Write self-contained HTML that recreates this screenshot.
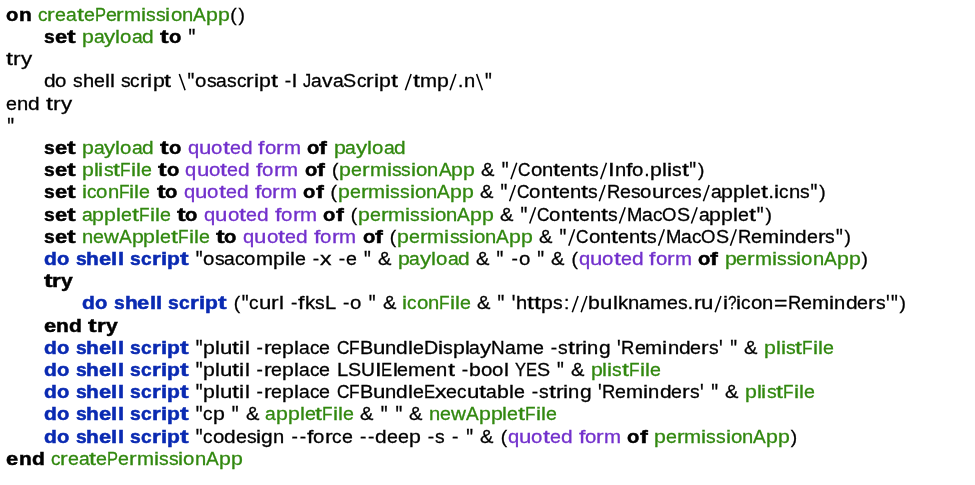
<!DOCTYPE html>
<html><head><meta charset="utf-8"><style>
html,body{margin:0;padding:0;background:#fff;width:975px;height:485px;overflow:hidden;position:relative}
i{position:absolute;display:block;font-style:normal;white-space:pre;font-family:"Liberation Sans",sans-serif;font-size:19.2px;line-height:0;height:0;transform-origin:0 0;color:#000;-webkit-text-stroke:0.3px currentColor}
i.q{transform-origin:0 -7.10px}
svg.s{position:absolute;left:0;top:0}
#c{position:absolute;left:0;top:0;width:975px;height:485px;filter:blur(0.3px)}
.k,.b{font-weight:bold;-webkit-text-stroke:0.5px currentColor}
.v{color:#31880f}
.p{color:#7230cc}
.b{color:#0a2ab2}
</style></head><body><div id="c">
<i class="k" style="left:6.36px;top:14.85px;transform:scaleX(1.0516)">o</i>
<i class="k" style="left:18.82px;top:14.85px;transform:scaleX(1.0898)">n</i>
<i class="v" style="left:37.91px;top:14.85px;transform:scaleX(0.9871)">c</i>
<i class="v" style="left:47.39px;top:14.85px;transform:scaleX(1.1884)">r</i>
<i class="v" style="left:54.98px;top:14.85px;transform:scaleX(1.0228)">e</i>
<i class="v" style="left:65.90px;top:14.85px;transform:scaleX(1.0038)">a</i>
<i class="v" style="left:76.62px;top:14.85px;transform:scaleX(1.3129)">t</i>
<i class="v" style="left:83.63px;top:14.85px;transform:scaleX(1.0228)">e</i>
<i class="v" style="left:94.55px;top:14.85px;transform:scaleX(0.8586)">P</i>
<i class="v" style="left:105.54px;top:14.85px;transform:scaleX(1.0228)">e</i>
<i class="v" style="left:116.46px;top:14.85px;transform:scaleX(1.1884)">r</i>
<i class="v" style="left:124.06px;top:14.85px;transform:scaleX(1.0645)">m</i>
<i class="v" style="left:141.09px;top:14.85px;transform:scaleX(1.1907)">i</i>
<i class="v" style="left:146.17px;top:14.85px;transform:scaleX(1.0059)">s</i>
<i class="v" style="left:155.82px;top:14.85px;transform:scaleX(1.0059)">s</i>
<i class="v" style="left:165.48px;top:14.85px;transform:scaleX(1.1907)">i</i>
<i class="v" style="left:170.56px;top:14.85px;transform:scaleX(1.0627)">o</i>
<i class="v" style="left:181.91px;top:14.85px;transform:scaleX(1.0521)">n</i>
<i class="v" style="left:193.14px;top:14.85px;transform:scaleX(0.9926)">A</i>
<i class="v" style="left:205.85px;top:14.85px;transform:scaleX(1.1100)">p</i>
<i class="v" style="left:217.70px;top:14.85px;transform:scaleX(1.1100)">p</i>
<i class="t" style="left:230.35px;top:14.85px;transform:scaleX(1.0000)">(</i>
<i class="t" style="left:238.50px;top:14.85px;transform:scaleX(1.0000)">)</i>
<i class="k" style="left:43.75px;top:37.05px;transform:scaleX(1.0007)">s</i>
<i class="k" style="left:54.56px;top:37.05px;transform:scaleX(1.1403)">e</i>
<i class="k" style="left:66.84px;top:37.05px;transform:scaleX(1.3422)">t</i>
<i class="v" style="left:81.70px;top:37.05px;transform:scaleX(1.1100)">p</i>
<i class="v" style="left:93.56px;top:37.05px;transform:scaleX(1.0038)">a</i>
<i class="v" style="left:104.27px;top:37.05px;transform:scaleX(1.1632)">y</i>
<i class="v" style="left:115.44px;top:37.05px;transform:scaleX(1.1552)">l</i>
<i class="v" style="left:120.37px;top:37.05px;transform:scaleX(1.0627)">o</i>
<i class="v" style="left:131.72px;top:37.05px;transform:scaleX(1.0038)">a</i>
<i class="v" style="left:142.43px;top:37.05px;transform:scaleX(1.0871)">d</i>
<i class="k" style="left:160.33px;top:37.05px;transform:scaleX(1.3422)">t</i>
<i class="k" style="left:169.01px;top:37.05px;transform:scaleX(1.0516)">o</i>
<i class="t q" style="left:188.49px;top:37.05px;transform:scaleX(1.0000) scaleY(1.2)">&quot;</i>
<i class="t" style="left:6.30px;top:59.25px;transform:scaleX(1.3129)">t</i>
<i class="t" style="left:13.30px;top:59.25px;transform:scaleX(1.1884)">r</i>
<i class="t" style="left:20.90px;top:59.25px;transform:scaleX(1.1632)">y</i>
<i class="t" style="left:43.70px;top:81.45px;transform:scaleX(1.0871)">d</i>
<i class="t" style="left:55.31px;top:81.45px;transform:scaleX(1.0627)">o</i>
<i class="t" style="left:72.90px;top:81.45px;transform:scaleX(1.0059)">s</i>
<i class="t" style="left:82.55px;top:81.45px;transform:scaleX(1.0475)">h</i>
<i class="t" style="left:93.74px;top:81.45px;transform:scaleX(1.0228)">e</i>
<i class="t" style="left:104.66px;top:81.45px;transform:scaleX(1.1552)">l</i>
<i class="t" style="left:109.59px;top:81.45px;transform:scaleX(1.1552)">l</i>
<i class="t" style="left:120.76px;top:81.45px;transform:scaleX(1.0059)">s</i>
<i class="t" style="left:130.41px;top:81.45px;transform:scaleX(0.9871)">c</i>
<i class="t" style="left:139.89px;top:81.45px;transform:scaleX(1.1884)">r</i>
<i class="t" style="left:147.49px;top:81.45px;transform:scaleX(1.1907)">i</i>
<i class="t" style="left:152.57px;top:81.45px;transform:scaleX(1.1100)">p</i>
<i class="t" style="left:164.42px;top:81.45px;transform:scaleX(1.3129)">t</i>
<i class="t q" style="left:187.56px;top:81.45px;transform:scaleX(1.0000) scaleY(1.2)">&quot;</i>
<i class="t" style="left:195.21px;top:81.45px;transform:scaleX(1.0627)">o</i>
<i class="t" style="left:206.56px;top:81.45px;transform:scaleX(1.0059)">s</i>
<i class="t" style="left:216.22px;top:81.45px;transform:scaleX(1.0038)">a</i>
<i class="t" style="left:226.94px;top:81.45px;transform:scaleX(1.0059)">s</i>
<i class="t" style="left:236.59px;top:81.45px;transform:scaleX(0.9871)">c</i>
<i class="t" style="left:246.07px;top:81.45px;transform:scaleX(1.1884)">r</i>
<i class="t" style="left:253.67px;top:81.45px;transform:scaleX(1.1907)">i</i>
<i class="t" style="left:258.75px;top:81.45px;transform:scaleX(1.1100)">p</i>
<i class="t" style="left:270.60px;top:81.45px;transform:scaleX(1.3129)">t</i>
<i class="t" style="left:284.76px;top:81.45px;transform:scaleX(1.0000)">-</i>
<i class="t" style="left:292.07px;top:81.45px;transform:scaleX(1.1552)">l</i>
<i class="t" style="left:303.23px;top:81.45px;transform:scaleX(0.8500)">J</i>
<i class="t" style="left:311.38px;top:81.45px;transform:scaleX(1.0038)">a</i>
<i class="t" style="left:322.10px;top:81.45px;transform:scaleX(1.1055)">v</i>
<i class="t" style="left:332.71px;top:81.45px;transform:scaleX(1.0038)">a</i>
<i class="t" style="left:343.43px;top:81.45px;transform:scaleX(1.0251)">S</i>
<i class="t" style="left:356.56px;top:81.45px;transform:scaleX(0.9871)">c</i>
<i class="t" style="left:366.03px;top:81.45px;transform:scaleX(1.1884)">r</i>
<i class="t" style="left:373.63px;top:81.45px;transform:scaleX(1.1907)">i</i>
<i class="t" style="left:378.71px;top:81.45px;transform:scaleX(1.1100)">p</i>
<i class="t" style="left:390.57px;top:81.45px;transform:scaleX(1.3129)">t</i>
<i class="t" style="left:412.66px;top:81.45px;transform:scaleX(1.3129)">t</i>
<i class="t" style="left:419.67px;top:81.45px;transform:scaleX(1.0645)">m</i>
<i class="t" style="left:436.69px;top:81.45px;transform:scaleX(1.1100)">p</i>
<i class="t" style="left:457.90px;top:81.45px;transform:scaleX(1.0000)">.</i>
<i class="t" style="left:463.74px;top:81.45px;transform:scaleX(1.0521)">n</i>
<i class="t q" style="left:484.88px;top:81.45px;transform:scaleX(1.0000) scaleY(1.2)">&quot;</i>
<i class="t" style="left:6.30px;top:103.65px;transform:scaleX(1.0228)">e</i>
<i class="t" style="left:17.22px;top:103.65px;transform:scaleX(1.0521)">n</i>
<i class="t" style="left:28.46px;top:103.65px;transform:scaleX(1.0871)">d</i>
<i class="t" style="left:46.30px;top:103.65px;transform:scaleX(1.3129)">t</i>
<i class="t" style="left:53.31px;top:103.65px;transform:scaleX(1.1884)">r</i>
<i class="t" style="left:60.91px;top:103.65px;transform:scaleX(1.1632)">y</i>
<i class="t q" style="left:7.13px;top:125.85px;transform:scaleX(1.0000) scaleY(1.2)">&quot;</i>
<i class="k" style="left:43.75px;top:148.05px;transform:scaleX(1.0007)">s</i>
<i class="k" style="left:54.56px;top:148.05px;transform:scaleX(1.1403)">e</i>
<i class="k" style="left:66.84px;top:148.05px;transform:scaleX(1.3422)">t</i>
<i class="v" style="left:81.70px;top:148.05px;transform:scaleX(1.1100)">p</i>
<i class="v" style="left:93.56px;top:148.05px;transform:scaleX(1.0038)">a</i>
<i class="v" style="left:104.27px;top:148.05px;transform:scaleX(1.1632)">y</i>
<i class="v" style="left:115.44px;top:148.05px;transform:scaleX(1.1552)">l</i>
<i class="v" style="left:120.37px;top:148.05px;transform:scaleX(1.0627)">o</i>
<i class="v" style="left:131.72px;top:148.05px;transform:scaleX(1.0038)">a</i>
<i class="v" style="left:142.43px;top:148.05px;transform:scaleX(1.0871)">d</i>
<i class="k" style="left:160.33px;top:148.05px;transform:scaleX(1.3422)">t</i>
<i class="k" style="left:169.01px;top:148.05px;transform:scaleX(1.0516)">o</i>
<i class="p" style="left:187.65px;top:148.05px;transform:scaleX(1.0506)">q</i>
<i class="p" style="left:198.87px;top:148.05px;transform:scaleX(1.1580)">u</i>
<i class="p" style="left:211.23px;top:148.05px;transform:scaleX(1.0627)">o</i>
<i class="p" style="left:222.58px;top:148.05px;transform:scaleX(1.3129)">t</i>
<i class="p" style="left:229.59px;top:148.05px;transform:scaleX(1.0228)">e</i>
<i class="p" style="left:240.51px;top:148.05px;transform:scaleX(1.0871)">d</i>
<i class="p" style="left:258.36px;top:148.05px;transform:scaleX(1.2049)">f</i>
<i class="p" style="left:264.78px;top:148.05px;transform:scaleX(1.0627)">o</i>
<i class="p" style="left:276.13px;top:148.05px;transform:scaleX(1.1884)">r</i>
<i class="p" style="left:283.73px;top:148.05px;transform:scaleX(1.0645)">m</i>
<i class="k" style="left:307.06px;top:148.05px;transform:scaleX(1.0516)">o</i>
<i class="k" style="left:319.49px;top:148.05px;transform:scaleX(1.2216)">f</i>
<i class="v" style="left:333.58px;top:148.05px;transform:scaleX(1.1100)">p</i>
<i class="v" style="left:345.44px;top:148.05px;transform:scaleX(1.0038)">a</i>
<i class="v" style="left:356.16px;top:148.05px;transform:scaleX(1.1632)">y</i>
<i class="v" style="left:367.32px;top:148.05px;transform:scaleX(1.1552)">l</i>
<i class="v" style="left:372.25px;top:148.05px;transform:scaleX(1.0627)">o</i>
<i class="v" style="left:383.60px;top:148.05px;transform:scaleX(1.0038)">a</i>
<i class="v" style="left:394.32px;top:148.05px;transform:scaleX(1.0871)">d</i>
<i class="k" style="left:43.75px;top:170.25px;transform:scaleX(1.0007)">s</i>
<i class="k" style="left:54.56px;top:170.25px;transform:scaleX(1.1403)">e</i>
<i class="k" style="left:66.84px;top:170.25px;transform:scaleX(1.3422)">t</i>
<i class="v" style="left:81.70px;top:170.25px;transform:scaleX(1.1100)">p</i>
<i class="v" style="left:93.56px;top:170.25px;transform:scaleX(1.1552)">l</i>
<i class="v" style="left:98.48px;top:170.25px;transform:scaleX(1.1907)">i</i>
<i class="v" style="left:103.56px;top:170.25px;transform:scaleX(1.0059)">s</i>
<i class="v" style="left:113.22px;top:170.25px;transform:scaleX(1.3129)">t</i>
<i class="v" style="left:120.22px;top:170.25px;transform:scaleX(0.8972)">F</i>
<i class="v" style="left:130.74px;top:170.25px;transform:scaleX(1.1907)">i</i>
<i class="v" style="left:135.82px;top:170.25px;transform:scaleX(1.1552)">l</i>
<i class="v" style="left:140.75px;top:170.25px;transform:scaleX(1.0228)">e</i>
<i class="k" style="left:157.96px;top:170.25px;transform:scaleX(1.3422)">t</i>
<i class="k" style="left:166.64px;top:170.25px;transform:scaleX(1.0516)">o</i>
<i class="p" style="left:185.28px;top:170.25px;transform:scaleX(1.0506)">q</i>
<i class="p" style="left:196.50px;top:170.25px;transform:scaleX(1.1580)">u</i>
<i class="p" style="left:208.86px;top:170.25px;transform:scaleX(1.0627)">o</i>
<i class="p" style="left:220.21px;top:170.25px;transform:scaleX(1.3129)">t</i>
<i class="p" style="left:227.21px;top:170.25px;transform:scaleX(1.0228)">e</i>
<i class="p" style="left:238.14px;top:170.25px;transform:scaleX(1.0871)">d</i>
<i class="p" style="left:255.98px;top:170.25px;transform:scaleX(1.2049)">f</i>
<i class="p" style="left:262.41px;top:170.25px;transform:scaleX(1.0627)">o</i>
<i class="p" style="left:273.76px;top:170.25px;transform:scaleX(1.1884)">r</i>
<i class="p" style="left:281.36px;top:170.25px;transform:scaleX(1.0645)">m</i>
<i class="k" style="left:304.69px;top:170.25px;transform:scaleX(1.0516)">o</i>
<i class="k" style="left:317.12px;top:170.25px;transform:scaleX(1.2216)">f</i>
<i class="t" style="left:332.00px;top:170.25px;transform:scaleX(1.0000)">(</i>
<i class="v" style="left:339.19px;top:170.25px;transform:scaleX(1.1100)">p</i>
<i class="v" style="left:351.04px;top:170.25px;transform:scaleX(1.0228)">e</i>
<i class="v" style="left:361.96px;top:170.25px;transform:scaleX(1.1884)">r</i>
<i class="v" style="left:369.56px;top:170.25px;transform:scaleX(1.0645)">m</i>
<i class="v" style="left:386.59px;top:170.25px;transform:scaleX(1.1907)">i</i>
<i class="v" style="left:391.67px;top:170.25px;transform:scaleX(1.0059)">s</i>
<i class="v" style="left:401.32px;top:170.25px;transform:scaleX(1.0059)">s</i>
<i class="v" style="left:410.98px;top:170.25px;transform:scaleX(1.1907)">i</i>
<i class="v" style="left:416.06px;top:170.25px;transform:scaleX(1.0627)">o</i>
<i class="v" style="left:427.41px;top:170.25px;transform:scaleX(1.0521)">n</i>
<i class="v" style="left:438.64px;top:170.25px;transform:scaleX(0.9926)">A</i>
<i class="v" style="left:451.35px;top:170.25px;transform:scaleX(1.1100)">p</i>
<i class="v" style="left:463.20px;top:170.25px;transform:scaleX(1.1100)">p</i>
<i class="t" style="left:481.30px;top:170.25px;transform:scaleX(1.0462)">&amp;</i>
<i class="t q" style="left:501.77px;top:170.25px;transform:scaleX(1.0000) scaleY(1.2)">&quot;</i>
<i class="t" style="left:518.28px;top:170.25px;transform:scaleX(0.8984)">C</i>
<i class="t" style="left:530.73px;top:170.25px;transform:scaleX(1.0627)">o</i>
<i class="t" style="left:542.08px;top:170.25px;transform:scaleX(1.0521)">n</i>
<i class="t" style="left:553.31px;top:170.25px;transform:scaleX(1.3129)">t</i>
<i class="t" style="left:560.32px;top:170.25px;transform:scaleX(1.0228)">e</i>
<i class="t" style="left:571.24px;top:170.25px;transform:scaleX(1.0521)">n</i>
<i class="t" style="left:582.47px;top:170.25px;transform:scaleX(1.3129)">t</i>
<i class="t" style="left:589.48px;top:170.25px;transform:scaleX(1.0059)">s</i>
<i class="t" style="left:607.99px;top:170.25px;transform:scaleX(1.2511)">I</i>
<i class="t" style="left:614.66px;top:170.25px;transform:scaleX(1.0521)">n</i>
<i class="t" style="left:625.90px;top:170.25px;transform:scaleX(1.2049)">f</i>
<i class="t" style="left:632.32px;top:170.25px;transform:scaleX(1.0627)">o</i>
<i class="t" style="left:644.17px;top:170.25px;transform:scaleX(1.0000)">.</i>
<i class="t" style="left:650.01px;top:170.25px;transform:scaleX(1.1100)">p</i>
<i class="t" style="left:661.87px;top:170.25px;transform:scaleX(1.1552)">l</i>
<i class="t" style="left:666.79px;top:170.25px;transform:scaleX(1.1907)">i</i>
<i class="t" style="left:671.87px;top:170.25px;transform:scaleX(1.0059)">s</i>
<i class="t" style="left:681.53px;top:170.25px;transform:scaleX(1.3129)">t</i>
<i class="t q" style="left:689.37px;top:170.25px;transform:scaleX(1.0000) scaleY(1.2)">&quot;</i>
<i class="t" style="left:697.98px;top:170.25px;transform:scaleX(1.0000)">)</i>
<i class="k" style="left:43.75px;top:192.45px;transform:scaleX(1.0007)">s</i>
<i class="k" style="left:54.56px;top:192.45px;transform:scaleX(1.1403)">e</i>
<i class="k" style="left:66.84px;top:192.45px;transform:scaleX(1.3422)">t</i>
<i class="v" style="left:81.70px;top:192.45px;transform:scaleX(1.1907)">i</i>
<i class="v" style="left:86.78px;top:192.45px;transform:scaleX(0.9871)">c</i>
<i class="v" style="left:96.26px;top:192.45px;transform:scaleX(1.0627)">o</i>
<i class="v" style="left:107.60px;top:192.45px;transform:scaleX(1.0521)">n</i>
<i class="v" style="left:118.84px;top:192.45px;transform:scaleX(0.8972)">F</i>
<i class="v" style="left:129.36px;top:192.45px;transform:scaleX(1.1907)">i</i>
<i class="v" style="left:134.44px;top:192.45px;transform:scaleX(1.1552)">l</i>
<i class="v" style="left:139.37px;top:192.45px;transform:scaleX(1.0228)">e</i>
<i class="k" style="left:156.57px;top:192.45px;transform:scaleX(1.3422)">t</i>
<i class="k" style="left:165.26px;top:192.45px;transform:scaleX(1.0516)">o</i>
<i class="p" style="left:183.90px;top:192.45px;transform:scaleX(1.0506)">q</i>
<i class="p" style="left:195.12px;top:192.45px;transform:scaleX(1.1580)">u</i>
<i class="p" style="left:207.48px;top:192.45px;transform:scaleX(1.0627)">o</i>
<i class="p" style="left:218.83px;top:192.45px;transform:scaleX(1.3129)">t</i>
<i class="p" style="left:225.83px;top:192.45px;transform:scaleX(1.0228)">e</i>
<i class="p" style="left:236.75px;top:192.45px;transform:scaleX(1.0871)">d</i>
<i class="p" style="left:254.60px;top:192.45px;transform:scaleX(1.2049)">f</i>
<i class="p" style="left:261.03px;top:192.45px;transform:scaleX(1.0627)">o</i>
<i class="p" style="left:272.38px;top:192.45px;transform:scaleX(1.1884)">r</i>
<i class="p" style="left:279.98px;top:192.45px;transform:scaleX(1.0645)">m</i>
<i class="k" style="left:303.30px;top:192.45px;transform:scaleX(1.0516)">o</i>
<i class="k" style="left:315.74px;top:192.45px;transform:scaleX(1.2216)">f</i>
<i class="t" style="left:330.62px;top:192.45px;transform:scaleX(1.0000)">(</i>
<i class="v" style="left:337.81px;top:192.45px;transform:scaleX(1.1100)">p</i>
<i class="v" style="left:349.66px;top:192.45px;transform:scaleX(1.0228)">e</i>
<i class="v" style="left:360.58px;top:192.45px;transform:scaleX(1.1884)">r</i>
<i class="v" style="left:368.18px;top:192.45px;transform:scaleX(1.0645)">m</i>
<i class="v" style="left:385.20px;top:192.45px;transform:scaleX(1.1907)">i</i>
<i class="v" style="left:390.28px;top:192.45px;transform:scaleX(1.0059)">s</i>
<i class="v" style="left:399.94px;top:192.45px;transform:scaleX(1.0059)">s</i>
<i class="v" style="left:409.60px;top:192.45px;transform:scaleX(1.1907)">i</i>
<i class="v" style="left:414.68px;top:192.45px;transform:scaleX(1.0627)">o</i>
<i class="v" style="left:426.02px;top:192.45px;transform:scaleX(1.0521)">n</i>
<i class="v" style="left:437.26px;top:192.45px;transform:scaleX(0.9926)">A</i>
<i class="v" style="left:449.97px;top:192.45px;transform:scaleX(1.1100)">p</i>
<i class="v" style="left:461.82px;top:192.45px;transform:scaleX(1.1100)">p</i>
<i class="t" style="left:479.92px;top:192.45px;transform:scaleX(1.0462)">&amp;</i>
<i class="t q" style="left:500.39px;top:192.45px;transform:scaleX(1.0000) scaleY(1.2)">&quot;</i>
<i class="t" style="left:516.89px;top:192.45px;transform:scaleX(0.8984)">C</i>
<i class="t" style="left:529.35px;top:192.45px;transform:scaleX(1.0627)">o</i>
<i class="t" style="left:540.70px;top:192.45px;transform:scaleX(1.0521)">n</i>
<i class="t" style="left:551.93px;top:192.45px;transform:scaleX(1.3129)">t</i>
<i class="t" style="left:558.94px;top:192.45px;transform:scaleX(1.0228)">e</i>
<i class="t" style="left:569.86px;top:192.45px;transform:scaleX(1.0521)">n</i>
<i class="t" style="left:581.09px;top:192.45px;transform:scaleX(1.3129)">t</i>
<i class="t" style="left:588.09px;top:192.45px;transform:scaleX(1.0059)">s</i>
<i class="t" style="left:606.60px;top:192.45px;transform:scaleX(0.9600)">R</i>
<i class="t" style="left:619.92px;top:192.45px;transform:scaleX(1.0228)">e</i>
<i class="t" style="left:630.84px;top:192.45px;transform:scaleX(1.0059)">s</i>
<i class="t" style="left:640.49px;top:192.45px;transform:scaleX(1.0627)">o</i>
<i class="t" style="left:651.84px;top:192.45px;transform:scaleX(1.1580)">u</i>
<i class="t" style="left:664.21px;top:192.45px;transform:scaleX(1.1884)">r</i>
<i class="t" style="left:671.81px;top:192.45px;transform:scaleX(0.9871)">c</i>
<i class="t" style="left:681.28px;top:192.45px;transform:scaleX(1.0228)">e</i>
<i class="t" style="left:692.20px;top:192.45px;transform:scaleX(1.0059)">s</i>
<i class="t" style="left:710.71px;top:192.45px;transform:scaleX(1.0038)">a</i>
<i class="t" style="left:721.43px;top:192.45px;transform:scaleX(1.1100)">p</i>
<i class="t" style="left:733.28px;top:192.45px;transform:scaleX(1.1100)">p</i>
<i class="t" style="left:745.14px;top:192.45px;transform:scaleX(1.1552)">l</i>
<i class="t" style="left:750.07px;top:192.45px;transform:scaleX(1.0228)">e</i>
<i class="t" style="left:760.99px;top:192.45px;transform:scaleX(1.3129)">t</i>
<i class="t" style="left:768.49px;top:192.45px;transform:scaleX(1.0000)">.</i>
<i class="t" style="left:774.33px;top:192.45px;transform:scaleX(1.1907)">i</i>
<i class="t" style="left:779.41px;top:192.45px;transform:scaleX(0.9871)">c</i>
<i class="t" style="left:788.89px;top:192.45px;transform:scaleX(1.0521)">n</i>
<i class="t" style="left:800.12px;top:192.45px;transform:scaleX(1.0059)">s</i>
<i class="t q" style="left:810.61px;top:192.45px;transform:scaleX(1.0000) scaleY(1.2)">&quot;</i>
<i class="t" style="left:819.22px;top:192.45px;transform:scaleX(1.0000)">)</i>
<i class="k" style="left:43.75px;top:214.65px;transform:scaleX(1.0007)">s</i>
<i class="k" style="left:54.56px;top:214.65px;transform:scaleX(1.1403)">e</i>
<i class="k" style="left:66.84px;top:214.65px;transform:scaleX(1.3422)">t</i>
<i class="v" style="left:81.70px;top:214.65px;transform:scaleX(1.0038)">a</i>
<i class="v" style="left:92.42px;top:214.65px;transform:scaleX(1.1100)">p</i>
<i class="v" style="left:104.27px;top:214.65px;transform:scaleX(1.1100)">p</i>
<i class="v" style="left:116.13px;top:214.65px;transform:scaleX(1.1552)">l</i>
<i class="v" style="left:121.05px;top:214.65px;transform:scaleX(1.0228)">e</i>
<i class="v" style="left:131.98px;top:214.65px;transform:scaleX(1.3129)">t</i>
<i class="v" style="left:138.98px;top:214.65px;transform:scaleX(0.8972)">F</i>
<i class="v" style="left:149.50px;top:214.65px;transform:scaleX(1.1907)">i</i>
<i class="v" style="left:154.58px;top:214.65px;transform:scaleX(1.1552)">l</i>
<i class="v" style="left:159.51px;top:214.65px;transform:scaleX(1.0228)">e</i>
<i class="k" style="left:176.71px;top:214.65px;transform:scaleX(1.3422)">t</i>
<i class="k" style="left:185.40px;top:214.65px;transform:scaleX(1.0516)">o</i>
<i class="p" style="left:204.04px;top:214.65px;transform:scaleX(1.0506)">q</i>
<i class="p" style="left:215.26px;top:214.65px;transform:scaleX(1.1580)">u</i>
<i class="p" style="left:227.62px;top:214.65px;transform:scaleX(1.0627)">o</i>
<i class="p" style="left:238.97px;top:214.65px;transform:scaleX(1.3129)">t</i>
<i class="p" style="left:245.97px;top:214.65px;transform:scaleX(1.0228)">e</i>
<i class="p" style="left:256.89px;top:214.65px;transform:scaleX(1.0871)">d</i>
<i class="p" style="left:274.74px;top:214.65px;transform:scaleX(1.2049)">f</i>
<i class="p" style="left:281.17px;top:214.65px;transform:scaleX(1.0627)">o</i>
<i class="p" style="left:292.52px;top:214.65px;transform:scaleX(1.1884)">r</i>
<i class="p" style="left:300.12px;top:214.65px;transform:scaleX(1.0645)">m</i>
<i class="k" style="left:323.44px;top:214.65px;transform:scaleX(1.0516)">o</i>
<i class="k" style="left:335.88px;top:214.65px;transform:scaleX(1.2216)">f</i>
<i class="t" style="left:350.76px;top:214.65px;transform:scaleX(1.0000)">(</i>
<i class="v" style="left:357.95px;top:214.65px;transform:scaleX(1.1100)">p</i>
<i class="v" style="left:369.80px;top:214.65px;transform:scaleX(1.0228)">e</i>
<i class="v" style="left:380.72px;top:214.65px;transform:scaleX(1.1884)">r</i>
<i class="v" style="left:388.32px;top:214.65px;transform:scaleX(1.0645)">m</i>
<i class="v" style="left:405.34px;top:214.65px;transform:scaleX(1.1907)">i</i>
<i class="v" style="left:410.42px;top:214.65px;transform:scaleX(1.0059)">s</i>
<i class="v" style="left:420.08px;top:214.65px;transform:scaleX(1.0059)">s</i>
<i class="v" style="left:429.74px;top:214.65px;transform:scaleX(1.1907)">i</i>
<i class="v" style="left:434.82px;top:214.65px;transform:scaleX(1.0627)">o</i>
<i class="v" style="left:446.16px;top:214.65px;transform:scaleX(1.0521)">n</i>
<i class="v" style="left:457.40px;top:214.65px;transform:scaleX(0.9926)">A</i>
<i class="v" style="left:470.11px;top:214.65px;transform:scaleX(1.1100)">p</i>
<i class="v" style="left:481.96px;top:214.65px;transform:scaleX(1.1100)">p</i>
<i class="t" style="left:500.06px;top:214.65px;transform:scaleX(1.0462)">&amp;</i>
<i class="t q" style="left:520.53px;top:214.65px;transform:scaleX(1.0000) scaleY(1.2)">&quot;</i>
<i class="t" style="left:537.03px;top:214.65px;transform:scaleX(0.8984)">C</i>
<i class="t" style="left:549.49px;top:214.65px;transform:scaleX(1.0627)">o</i>
<i class="t" style="left:560.84px;top:214.65px;transform:scaleX(1.0521)">n</i>
<i class="t" style="left:572.07px;top:214.65px;transform:scaleX(1.3129)">t</i>
<i class="t" style="left:579.08px;top:214.65px;transform:scaleX(1.0228)">e</i>
<i class="t" style="left:590.00px;top:214.65px;transform:scaleX(1.0521)">n</i>
<i class="t" style="left:601.23px;top:214.65px;transform:scaleX(1.3129)">t</i>
<i class="t" style="left:608.23px;top:214.65px;transform:scaleX(1.0059)">s</i>
<i class="t" style="left:626.74px;top:214.65px;transform:scaleX(0.9608)">M</i>
<i class="t" style="left:642.11px;top:214.65px;transform:scaleX(1.0038)">a</i>
<i class="t" style="left:652.83px;top:214.65px;transform:scaleX(0.9871)">c</i>
<i class="t" style="left:662.31px;top:214.65px;transform:scaleX(0.9646)">O</i>
<i class="t" style="left:676.71px;top:214.65px;transform:scaleX(1.0251)">S</i>
<i class="t" style="left:698.69px;top:214.65px;transform:scaleX(1.0038)">a</i>
<i class="t" style="left:709.41px;top:214.65px;transform:scaleX(1.1100)">p</i>
<i class="t" style="left:721.26px;top:214.65px;transform:scaleX(1.1100)">p</i>
<i class="t" style="left:733.12px;top:214.65px;transform:scaleX(1.1552)">l</i>
<i class="t" style="left:738.04px;top:214.65px;transform:scaleX(1.0228)">e</i>
<i class="t" style="left:748.97px;top:214.65px;transform:scaleX(1.3129)">t</i>
<i class="t q" style="left:756.80px;top:214.65px;transform:scaleX(1.0000) scaleY(1.2)">&quot;</i>
<i class="t" style="left:765.41px;top:214.65px;transform:scaleX(1.0000)">)</i>
<i class="k" style="left:43.75px;top:236.85px;transform:scaleX(1.0007)">s</i>
<i class="k" style="left:54.56px;top:236.85px;transform:scaleX(1.1403)">e</i>
<i class="k" style="left:66.84px;top:236.85px;transform:scaleX(1.3422)">t</i>
<i class="v" style="left:81.70px;top:236.85px;transform:scaleX(1.0521)">n</i>
<i class="v" style="left:92.94px;top:236.85px;transform:scaleX(1.0228)">e</i>
<i class="v" style="left:103.86px;top:236.85px;transform:scaleX(1.0768)">w</i>
<i class="v" style="left:118.79px;top:236.85px;transform:scaleX(0.9926)">A</i>
<i class="v" style="left:131.50px;top:236.85px;transform:scaleX(1.1100)">p</i>
<i class="v" style="left:143.35px;top:236.85px;transform:scaleX(1.1100)">p</i>
<i class="v" style="left:155.21px;top:236.85px;transform:scaleX(1.1552)">l</i>
<i class="v" style="left:160.13px;top:236.85px;transform:scaleX(1.0228)">e</i>
<i class="v" style="left:171.05px;top:236.85px;transform:scaleX(1.3129)">t</i>
<i class="v" style="left:178.06px;top:236.85px;transform:scaleX(0.8972)">F</i>
<i class="v" style="left:188.58px;top:236.85px;transform:scaleX(1.1907)">i</i>
<i class="v" style="left:193.66px;top:236.85px;transform:scaleX(1.1552)">l</i>
<i class="v" style="left:198.59px;top:236.85px;transform:scaleX(1.0228)">e</i>
<i class="k" style="left:215.79px;top:236.85px;transform:scaleX(1.3422)">t</i>
<i class="k" style="left:224.48px;top:236.85px;transform:scaleX(1.0516)">o</i>
<i class="p" style="left:243.12px;top:236.85px;transform:scaleX(1.0506)">q</i>
<i class="p" style="left:254.33px;top:236.85px;transform:scaleX(1.1580)">u</i>
<i class="p" style="left:266.70px;top:236.85px;transform:scaleX(1.0627)">o</i>
<i class="p" style="left:278.05px;top:236.85px;transform:scaleX(1.3129)">t</i>
<i class="p" style="left:285.05px;top:236.85px;transform:scaleX(1.0228)">e</i>
<i class="p" style="left:295.97px;top:236.85px;transform:scaleX(1.0871)">d</i>
<i class="p" style="left:313.82px;top:236.85px;transform:scaleX(1.2049)">f</i>
<i class="p" style="left:320.25px;top:236.85px;transform:scaleX(1.0627)">o</i>
<i class="p" style="left:331.60px;top:236.85px;transform:scaleX(1.1884)">r</i>
<i class="p" style="left:339.19px;top:236.85px;transform:scaleX(1.0645)">m</i>
<i class="k" style="left:362.52px;top:236.85px;transform:scaleX(1.0516)">o</i>
<i class="k" style="left:374.96px;top:236.85px;transform:scaleX(1.2216)">f</i>
<i class="t" style="left:389.84px;top:236.85px;transform:scaleX(1.0000)">(</i>
<i class="v" style="left:397.02px;top:236.85px;transform:scaleX(1.1100)">p</i>
<i class="v" style="left:408.88px;top:236.85px;transform:scaleX(1.0228)">e</i>
<i class="v" style="left:419.80px;top:236.85px;transform:scaleX(1.1884)">r</i>
<i class="v" style="left:427.40px;top:236.85px;transform:scaleX(1.0645)">m</i>
<i class="v" style="left:444.42px;top:236.85px;transform:scaleX(1.1907)">i</i>
<i class="v" style="left:449.50px;top:236.85px;transform:scaleX(1.0059)">s</i>
<i class="v" style="left:459.16px;top:236.85px;transform:scaleX(1.0059)">s</i>
<i class="v" style="left:468.81px;top:236.85px;transform:scaleX(1.1907)">i</i>
<i class="v" style="left:473.89px;top:236.85px;transform:scaleX(1.0627)">o</i>
<i class="v" style="left:485.24px;top:236.85px;transform:scaleX(1.0521)">n</i>
<i class="v" style="left:496.48px;top:236.85px;transform:scaleX(0.9926)">A</i>
<i class="v" style="left:509.19px;top:236.85px;transform:scaleX(1.1100)">p</i>
<i class="v" style="left:521.04px;top:236.85px;transform:scaleX(1.1100)">p</i>
<i class="t" style="left:539.13px;top:236.85px;transform:scaleX(1.0462)">&amp;</i>
<i class="t q" style="left:559.61px;top:236.85px;transform:scaleX(1.0000) scaleY(1.2)">&quot;</i>
<i class="t" style="left:576.11px;top:236.85px;transform:scaleX(0.8984)">C</i>
<i class="t" style="left:588.57px;top:236.85px;transform:scaleX(1.0627)">o</i>
<i class="t" style="left:599.92px;top:236.85px;transform:scaleX(1.0521)">n</i>
<i class="t" style="left:611.15px;top:236.85px;transform:scaleX(1.3129)">t</i>
<i class="t" style="left:618.15px;top:236.85px;transform:scaleX(1.0228)">e</i>
<i class="t" style="left:629.07px;top:236.85px;transform:scaleX(1.0521)">n</i>
<i class="t" style="left:640.31px;top:236.85px;transform:scaleX(1.3129)">t</i>
<i class="t" style="left:647.31px;top:236.85px;transform:scaleX(1.0059)">s</i>
<i class="t" style="left:665.82px;top:236.85px;transform:scaleX(0.9608)">M</i>
<i class="t" style="left:681.19px;top:236.85px;transform:scaleX(1.0038)">a</i>
<i class="t" style="left:691.91px;top:236.85px;transform:scaleX(0.9871)">c</i>
<i class="t" style="left:701.38px;top:236.85px;transform:scaleX(0.9646)">O</i>
<i class="t" style="left:715.79px;top:236.85px;transform:scaleX(1.0251)">S</i>
<i class="t" style="left:737.77px;top:236.85px;transform:scaleX(0.9600)">R</i>
<i class="t" style="left:751.08px;top:236.85px;transform:scaleX(1.0228)">e</i>
<i class="t" style="left:762.00px;top:236.85px;transform:scaleX(1.0645)">m</i>
<i class="t" style="left:779.03px;top:236.85px;transform:scaleX(1.1907)">i</i>
<i class="t" style="left:784.11px;top:236.85px;transform:scaleX(1.0521)">n</i>
<i class="t" style="left:795.34px;top:236.85px;transform:scaleX(1.0871)">d</i>
<i class="t" style="left:806.95px;top:236.85px;transform:scaleX(1.0228)">e</i>
<i class="t" style="left:817.87px;top:236.85px;transform:scaleX(1.1884)">r</i>
<i class="t" style="left:825.47px;top:236.85px;transform:scaleX(1.0059)">s</i>
<i class="t q" style="left:835.96px;top:236.85px;transform:scaleX(1.0000) scaleY(1.2)">&quot;</i>
<i class="t" style="left:844.57px;top:236.85px;transform:scaleX(1.0000)">)</i>
<i class="b" style="left:43.76px;top:259.05px;transform:scaleX(1.0957)">d</i>
<i class="b" style="left:56.74px;top:259.05px;transform:scaleX(1.0516)">o</i>
<i class="b" style="left:75.51px;top:259.05px;transform:scaleX(1.0007)">s</i>
<i class="b" style="left:86.31px;top:259.05px;transform:scaleX(1.0898)">h</i>
<i class="b" style="left:99.22px;top:259.05px;transform:scaleX(1.1403)">e</i>
<i class="b" style="left:111.49px;top:259.05px;transform:scaleX(1.1536)">l</i>
<i class="b" style="left:117.70px;top:259.05px;transform:scaleX(1.1536)">l</i>
<i class="b" style="left:130.25px;top:259.05px;transform:scaleX(1.0007)">s</i>
<i class="b" style="left:141.05px;top:259.05px;transform:scaleX(0.9966)">c</i>
<i class="b" style="left:151.79px;top:259.05px;transform:scaleX(1.1849)">r</i>
<i class="b" style="left:160.72px;top:259.05px;transform:scaleX(1.1536)">i</i>
<i class="b" style="left:166.97px;top:259.05px;transform:scaleX(1.0957)">p</i>
<i class="b" style="left:179.93px;top:259.05px;transform:scaleX(1.3422)">t</i>
<i class="t q" style="left:195.63px;top:259.05px;transform:scaleX(1.0000) scaleY(1.2)">&quot;</i>
<i class="t" style="left:203.28px;top:259.05px;transform:scaleX(1.0627)">o</i>
<i class="t" style="left:214.62px;top:259.05px;transform:scaleX(1.0059)">s</i>
<i class="t" style="left:224.28px;top:259.05px;transform:scaleX(1.0038)">a</i>
<i class="t" style="left:235.00px;top:259.05px;transform:scaleX(0.9871)">c</i>
<i class="t" style="left:244.47px;top:259.05px;transform:scaleX(1.0627)">o</i>
<i class="t" style="left:255.82px;top:259.05px;transform:scaleX(1.0645)">m</i>
<i class="t" style="left:272.85px;top:259.05px;transform:scaleX(1.1100)">p</i>
<i class="t" style="left:284.70px;top:259.05px;transform:scaleX(1.1907)">i</i>
<i class="t" style="left:289.78px;top:259.05px;transform:scaleX(1.1552)">l</i>
<i class="t" style="left:294.71px;top:259.05px;transform:scaleX(1.0228)">e</i>
<i class="t" style="left:312.78px;top:259.05px;transform:scaleX(1.0000)">-</i>
<i class="t" style="left:320.09px;top:259.05px;transform:scaleX(1.1949)">x</i>
<i class="t" style="left:338.72px;top:259.05px;transform:scaleX(1.0000)">-</i>
<i class="t" style="left:346.03px;top:259.05px;transform:scaleX(1.0228)">e</i>
<i class="t q" style="left:364.02px;top:259.05px;transform:scaleX(1.0000) scaleY(1.2)">&quot;</i>
<i class="t" style="left:377.91px;top:259.05px;transform:scaleX(1.0462)">&amp;</i>
<i class="v" style="left:397.55px;top:259.05px;transform:scaleX(1.1100)">p</i>
<i class="v" style="left:409.40px;top:259.05px;transform:scaleX(1.0038)">a</i>
<i class="v" style="left:420.12px;top:259.05px;transform:scaleX(1.1632)">y</i>
<i class="v" style="left:431.29px;top:259.05px;transform:scaleX(1.1552)">l</i>
<i class="v" style="left:436.22px;top:259.05px;transform:scaleX(1.0627)">o</i>
<i class="v" style="left:447.57px;top:259.05px;transform:scaleX(1.0038)">a</i>
<i class="v" style="left:458.28px;top:259.05px;transform:scaleX(1.0871)">d</i>
<i class="t" style="left:476.13px;top:259.05px;transform:scaleX(1.0462)">&amp;</i>
<i class="t q" style="left:496.61px;top:259.05px;transform:scaleX(1.0000) scaleY(1.2)">&quot;</i>
<i class="t" style="left:511.41px;top:259.05px;transform:scaleX(1.0000)">-</i>
<i class="t" style="left:518.72px;top:259.05px;transform:scaleX(1.0627)">o</i>
<i class="t q" style="left:537.14px;top:259.05px;transform:scaleX(1.0000) scaleY(1.2)">&quot;</i>
<i class="t" style="left:551.03px;top:259.05px;transform:scaleX(1.0462)">&amp;</i>
<i class="t" style="left:571.46px;top:259.05px;transform:scaleX(1.0000)">(</i>
<i class="p" style="left:578.65px;top:259.05px;transform:scaleX(1.0506)">q</i>
<i class="p" style="left:589.87px;top:259.05px;transform:scaleX(1.1580)">u</i>
<i class="p" style="left:602.23px;top:259.05px;transform:scaleX(1.0627)">o</i>
<i class="p" style="left:613.58px;top:259.05px;transform:scaleX(1.3129)">t</i>
<i class="p" style="left:620.58px;top:259.05px;transform:scaleX(1.0228)">e</i>
<i class="p" style="left:631.51px;top:259.05px;transform:scaleX(1.0871)">d</i>
<i class="p" style="left:649.35px;top:259.05px;transform:scaleX(1.2049)">f</i>
<i class="p" style="left:655.78px;top:259.05px;transform:scaleX(1.0627)">o</i>
<i class="p" style="left:667.13px;top:259.05px;transform:scaleX(1.1884)">r</i>
<i class="p" style="left:674.73px;top:259.05px;transform:scaleX(1.0645)">m</i>
<i class="k" style="left:698.06px;top:259.05px;transform:scaleX(1.0516)">o</i>
<i class="k" style="left:710.49px;top:259.05px;transform:scaleX(1.2216)">f</i>
<i class="v" style="left:724.58px;top:259.05px;transform:scaleX(1.1100)">p</i>
<i class="v" style="left:736.44px;top:259.05px;transform:scaleX(1.0228)">e</i>
<i class="v" style="left:747.36px;top:259.05px;transform:scaleX(1.1884)">r</i>
<i class="v" style="left:754.95px;top:259.05px;transform:scaleX(1.0645)">m</i>
<i class="v" style="left:771.98px;top:259.05px;transform:scaleX(1.1907)">i</i>
<i class="v" style="left:777.06px;top:259.05px;transform:scaleX(1.0059)">s</i>
<i class="v" style="left:786.72px;top:259.05px;transform:scaleX(1.0059)">s</i>
<i class="v" style="left:796.37px;top:259.05px;transform:scaleX(1.1907)">i</i>
<i class="v" style="left:801.45px;top:259.05px;transform:scaleX(1.0627)">o</i>
<i class="v" style="left:812.80px;top:259.05px;transform:scaleX(1.0521)">n</i>
<i class="v" style="left:824.03px;top:259.05px;transform:scaleX(0.9926)">A</i>
<i class="v" style="left:836.74px;top:259.05px;transform:scaleX(1.1100)">p</i>
<i class="v" style="left:848.60px;top:259.05px;transform:scaleX(1.1100)">p</i>
<i class="t" style="left:861.41px;top:259.05px;transform:scaleX(1.0000)">)</i>
<i class="k" style="left:43.74px;top:281.25px;transform:scaleX(1.3422)">t</i>
<i class="k" style="left:52.41px;top:281.25px;transform:scaleX(1.1849)">r</i>
<i class="k" style="left:61.37px;top:281.25px;transform:scaleX(1.0959)">y</i>
<i class="b" style="left:81.96px;top:303.45px;transform:scaleX(1.0957)">d</i>
<i class="b" style="left:94.94px;top:303.45px;transform:scaleX(1.0516)">o</i>
<i class="b" style="left:113.71px;top:303.45px;transform:scaleX(1.0007)">s</i>
<i class="b" style="left:124.51px;top:303.45px;transform:scaleX(1.0898)">h</i>
<i class="b" style="left:137.42px;top:303.45px;transform:scaleX(1.1403)">e</i>
<i class="b" style="left:149.69px;top:303.45px;transform:scaleX(1.1536)">l</i>
<i class="b" style="left:155.90px;top:303.45px;transform:scaleX(1.1536)">l</i>
<i class="b" style="left:168.45px;top:303.45px;transform:scaleX(1.0007)">s</i>
<i class="b" style="left:179.25px;top:303.45px;transform:scaleX(0.9966)">c</i>
<i class="b" style="left:189.99px;top:303.45px;transform:scaleX(1.1849)">r</i>
<i class="b" style="left:198.92px;top:303.45px;transform:scaleX(1.1536)">i</i>
<i class="b" style="left:205.17px;top:303.45px;transform:scaleX(1.0957)">p</i>
<i class="b" style="left:218.13px;top:303.45px;transform:scaleX(1.3422)">t</i>
<i class="t" style="left:233.78px;top:303.45px;transform:scaleX(1.0000)">(</i>
<i class="t q" style="left:241.80px;top:303.45px;transform:scaleX(1.0000) scaleY(1.2)">&quot;</i>
<i class="t" style="left:249.45px;top:303.45px;transform:scaleX(0.9871)">c</i>
<i class="t" style="left:258.93px;top:303.45px;transform:scaleX(1.1580)">u</i>
<i class="t" style="left:271.29px;top:303.45px;transform:scaleX(1.1884)">r</i>
<i class="t" style="left:278.89px;top:303.45px;transform:scaleX(1.1552)">l</i>
<i class="t" style="left:290.97px;top:303.45px;transform:scaleX(1.0000)">-</i>
<i class="t" style="left:298.28px;top:303.45px;transform:scaleX(1.2049)">f</i>
<i class="t" style="left:304.71px;top:303.45px;transform:scaleX(1.0596)">k</i>
<i class="t" style="left:314.88px;top:303.45px;transform:scaleX(1.0059)">s</i>
<i class="t" style="left:324.54px;top:303.45px;transform:scaleX(1.0506)">L</i>
<i class="t" style="left:342.91px;top:303.45px;transform:scaleX(1.0000)">-</i>
<i class="t" style="left:350.22px;top:303.45px;transform:scaleX(1.0627)">o</i>
<i class="t q" style="left:368.64px;top:303.45px;transform:scaleX(1.0000) scaleY(1.2)">&quot;</i>
<i class="t" style="left:382.53px;top:303.45px;transform:scaleX(1.0462)">&amp;</i>
<i class="v" style="left:402.17px;top:303.45px;transform:scaleX(1.1907)">i</i>
<i class="v" style="left:407.25px;top:303.45px;transform:scaleX(0.9871)">c</i>
<i class="v" style="left:416.73px;top:303.45px;transform:scaleX(1.0627)">o</i>
<i class="v" style="left:428.08px;top:303.45px;transform:scaleX(1.0521)">n</i>
<i class="v" style="left:439.31px;top:303.45px;transform:scaleX(0.8972)">F</i>
<i class="v" style="left:449.83px;top:303.45px;transform:scaleX(1.1907)">i</i>
<i class="v" style="left:454.91px;top:303.45px;transform:scaleX(1.1552)">l</i>
<i class="v" style="left:459.84px;top:303.45px;transform:scaleX(1.0228)">e</i>
<i class="t" style="left:477.00px;top:303.45px;transform:scaleX(1.0462)">&amp;</i>
<i class="t q" style="left:497.47px;top:303.45px;transform:scaleX(1.0000) scaleY(1.2)">&quot;</i>
<i class="t q" style="left:511.82px;top:303.45px;transform:scaleX(1.0000) scaleY(1.2)">&#x27;</i>
<i class="t" style="left:515.95px;top:303.45px;transform:scaleX(1.0475)">h</i>
<i class="t" style="left:527.13px;top:303.45px;transform:scaleX(1.3129)">t</i>
<i class="t" style="left:534.14px;top:303.45px;transform:scaleX(1.3129)">t</i>
<i class="t" style="left:541.14px;top:303.45px;transform:scaleX(1.1100)">p</i>
<i class="t" style="left:552.99px;top:303.45px;transform:scaleX(1.0059)">s</i>
<i class="t" style="left:564.04px;top:303.45px;transform:scaleX(1.0000)">:</i>
<i class="t" style="left:588.48px;top:303.45px;transform:scaleX(1.1089)">b</i>
<i class="t" style="left:600.32px;top:303.45px;transform:scaleX(1.1580)">u</i>
<i class="t" style="left:612.68px;top:303.45px;transform:scaleX(1.1552)">l</i>
<i class="t" style="left:617.61px;top:303.45px;transform:scaleX(1.0596)">k</i>
<i class="t" style="left:627.78px;top:303.45px;transform:scaleX(1.0521)">n</i>
<i class="t" style="left:639.02px;top:303.45px;transform:scaleX(1.0038)">a</i>
<i class="t" style="left:649.74px;top:303.45px;transform:scaleX(1.0645)">m</i>
<i class="t" style="left:666.76px;top:303.45px;transform:scaleX(1.0228)">e</i>
<i class="t" style="left:677.68px;top:303.45px;transform:scaleX(1.0059)">s</i>
<i class="t" style="left:687.84px;top:303.45px;transform:scaleX(1.0000)">.</i>
<i class="t" style="left:693.68px;top:303.45px;transform:scaleX(1.1884)">r</i>
<i class="t" style="left:701.28px;top:303.45px;transform:scaleX(1.1580)">u</i>
<i class="t" style="left:722.50px;top:303.45px;transform:scaleX(1.1907)">i</i>
<i class="t" style="left:727.58px;top:303.45px;transform:scaleX(0.7980)">?</i>
<i class="t" style="left:736.10px;top:303.45px;transform:scaleX(1.1907)">i</i>
<i class="t" style="left:741.18px;top:303.45px;transform:scaleX(0.9871)">c</i>
<i class="t" style="left:750.65px;top:303.45px;transform:scaleX(1.0627)">o</i>
<i class="t" style="left:762.00px;top:303.45px;transform:scaleX(1.0521)">n</i>
<i class="t" style="left:773.97px;top:303.45px;transform:scaleX(1.2000)">=</i>
<i class="t" style="left:788.16px;top:303.45px;transform:scaleX(0.9600)">R</i>
<i class="t" style="left:801.47px;top:303.45px;transform:scaleX(1.0228)">e</i>
<i class="t" style="left:812.39px;top:303.45px;transform:scaleX(1.0645)">m</i>
<i class="t" style="left:829.41px;top:303.45px;transform:scaleX(1.1907)">i</i>
<i class="t" style="left:834.49px;top:303.45px;transform:scaleX(1.0521)">n</i>
<i class="t" style="left:845.73px;top:303.45px;transform:scaleX(1.0871)">d</i>
<i class="t" style="left:857.34px;top:303.45px;transform:scaleX(1.0228)">e</i>
<i class="t" style="left:868.26px;top:303.45px;transform:scaleX(1.1884)">r</i>
<i class="t" style="left:875.86px;top:303.45px;transform:scaleX(1.0059)">s</i>
<i class="t q" style="left:885.97px;top:303.45px;transform:scaleX(1.0000) scaleY(1.2)">&#x27;</i>
<i class="t q" style="left:890.93px;top:303.45px;transform:scaleX(1.0000) scaleY(1.2)">&quot;</i>
<i class="t" style="left:899.54px;top:303.45px;transform:scaleX(1.0000)">)</i>
<i class="k" style="left:43.76px;top:325.65px;transform:scaleX(1.1403)">e</i>
<i class="k" style="left:56.06px;top:325.65px;transform:scaleX(1.0898)">n</i>
<i class="k" style="left:68.97px;top:325.65px;transform:scaleX(1.0957)">d</i>
<i class="k" style="left:88.25px;top:325.65px;transform:scaleX(1.3422)">t</i>
<i class="k" style="left:96.92px;top:325.65px;transform:scaleX(1.1849)">r</i>
<i class="k" style="left:105.87px;top:325.65px;transform:scaleX(1.0959)">y</i>
<i class="b" style="left:43.76px;top:347.85px;transform:scaleX(1.0957)">d</i>
<i class="b" style="left:56.74px;top:347.85px;transform:scaleX(1.0516)">o</i>
<i class="b" style="left:75.51px;top:347.85px;transform:scaleX(1.0007)">s</i>
<i class="b" style="left:86.31px;top:347.85px;transform:scaleX(1.0898)">h</i>
<i class="b" style="left:99.22px;top:347.85px;transform:scaleX(1.1403)">e</i>
<i class="b" style="left:111.49px;top:347.85px;transform:scaleX(1.1536)">l</i>
<i class="b" style="left:117.70px;top:347.85px;transform:scaleX(1.1536)">l</i>
<i class="b" style="left:130.25px;top:347.85px;transform:scaleX(1.0007)">s</i>
<i class="b" style="left:141.05px;top:347.85px;transform:scaleX(0.9966)">c</i>
<i class="b" style="left:151.79px;top:347.85px;transform:scaleX(1.1849)">r</i>
<i class="b" style="left:160.72px;top:347.85px;transform:scaleX(1.1536)">i</i>
<i class="b" style="left:166.97px;top:347.85px;transform:scaleX(1.0957)">p</i>
<i class="b" style="left:179.93px;top:347.85px;transform:scaleX(1.3422)">t</i>
<i class="t q" style="left:195.63px;top:347.85px;transform:scaleX(1.0000) scaleY(1.2)">&quot;</i>
<i class="t" style="left:203.28px;top:347.85px;transform:scaleX(1.1100)">p</i>
<i class="t" style="left:215.13px;top:347.85px;transform:scaleX(1.1552)">l</i>
<i class="t" style="left:220.06px;top:347.85px;transform:scaleX(1.1580)">u</i>
<i class="t" style="left:232.42px;top:347.85px;transform:scaleX(1.3129)">t</i>
<i class="t" style="left:239.42px;top:347.85px;transform:scaleX(1.1907)">i</i>
<i class="t" style="left:244.50px;top:347.85px;transform:scaleX(1.1552)">l</i>
<i class="t" style="left:256.59px;top:347.85px;transform:scaleX(1.0000)">-</i>
<i class="t" style="left:263.89px;top:347.85px;transform:scaleX(1.1884)">r</i>
<i class="t" style="left:271.49px;top:347.85px;transform:scaleX(1.0228)">e</i>
<i class="t" style="left:282.41px;top:347.85px;transform:scaleX(1.1100)">p</i>
<i class="t" style="left:294.27px;top:347.85px;transform:scaleX(1.1552)">l</i>
<i class="t" style="left:299.19px;top:347.85px;transform:scaleX(1.0038)">a</i>
<i class="t" style="left:309.91px;top:347.85px;transform:scaleX(0.9871)">c</i>
<i class="t" style="left:319.39px;top:347.85px;transform:scaleX(1.0228)">e</i>
<i class="t" style="left:336.55px;top:347.85px;transform:scaleX(0.8984)">C</i>
<i class="t" style="left:349.01px;top:347.85px;transform:scaleX(0.8972)">F</i>
<i class="t" style="left:359.53px;top:347.85px;transform:scaleX(1.0342)">B</i>
<i class="t" style="left:372.77px;top:347.85px;transform:scaleX(1.1580)">u</i>
<i class="t" style="left:385.14px;top:347.85px;transform:scaleX(1.0521)">n</i>
<i class="t" style="left:396.37px;top:347.85px;transform:scaleX(1.0871)">d</i>
<i class="t" style="left:407.98px;top:347.85px;transform:scaleX(1.1552)">l</i>
<i class="t" style="left:412.91px;top:347.85px;transform:scaleX(1.0228)">e</i>
<i class="t" style="left:423.83px;top:347.85px;transform:scaleX(1.0203)">D</i>
<i class="t" style="left:437.98px;top:347.85px;transform:scaleX(1.1907)">i</i>
<i class="t" style="left:443.06px;top:347.85px;transform:scaleX(1.0059)">s</i>
<i class="t" style="left:452.71px;top:347.85px;transform:scaleX(1.1100)">p</i>
<i class="t" style="left:464.57px;top:347.85px;transform:scaleX(1.1552)">l</i>
<i class="t" style="left:469.49px;top:347.85px;transform:scaleX(1.0038)">a</i>
<i class="t" style="left:480.21px;top:347.85px;transform:scaleX(1.1632)">y</i>
<i class="t" style="left:491.38px;top:347.85px;transform:scaleX(0.9837)">N</i>
<i class="t" style="left:505.02px;top:347.85px;transform:scaleX(1.0038)">a</i>
<i class="t" style="left:515.74px;top:347.85px;transform:scaleX(1.0645)">m</i>
<i class="t" style="left:532.76px;top:347.85px;transform:scaleX(1.0228)">e</i>
<i class="t" style="left:550.84px;top:347.85px;transform:scaleX(1.0000)">-</i>
<i class="t" style="left:558.15px;top:347.85px;transform:scaleX(1.0059)">s</i>
<i class="t" style="left:567.80px;top:347.85px;transform:scaleX(1.3129)">t</i>
<i class="t" style="left:574.81px;top:347.85px;transform:scaleX(1.1884)">r</i>
<i class="t" style="left:582.41px;top:347.85px;transform:scaleX(1.1907)">i</i>
<i class="t" style="left:587.48px;top:347.85px;transform:scaleX(1.0521)">n</i>
<i class="t" style="left:598.72px;top:347.85px;transform:scaleX(1.0929)">g</i>
<i class="t q" style="left:617.09px;top:347.85px;transform:scaleX(1.0000) scaleY(1.2)">&#x27;</i>
<i class="t" style="left:621.21px;top:347.85px;transform:scaleX(0.9600)">R</i>
<i class="t" style="left:634.52px;top:347.85px;transform:scaleX(1.0228)">e</i>
<i class="t" style="left:645.45px;top:347.85px;transform:scaleX(1.0645)">m</i>
<i class="t" style="left:662.47px;top:347.85px;transform:scaleX(1.1907)">i</i>
<i class="t" style="left:667.55px;top:347.85px;transform:scaleX(1.0521)">n</i>
<i class="t" style="left:678.78px;top:347.85px;transform:scaleX(1.0871)">d</i>
<i class="t" style="left:690.39px;top:347.85px;transform:scaleX(1.0228)">e</i>
<i class="t" style="left:701.31px;top:347.85px;transform:scaleX(1.1884)">r</i>
<i class="t" style="left:708.91px;top:347.85px;transform:scaleX(1.0059)">s</i>
<i class="t q" style="left:719.03px;top:347.85px;transform:scaleX(1.0000) scaleY(1.2)">&#x27;</i>
<i class="t q" style="left:730.23px;top:347.85px;transform:scaleX(1.0000) scaleY(1.2)">&quot;</i>
<i class="t" style="left:744.12px;top:347.85px;transform:scaleX(1.0462)">&amp;</i>
<i class="v" style="left:763.76px;top:347.85px;transform:scaleX(1.1100)">p</i>
<i class="v" style="left:775.61px;top:347.85px;transform:scaleX(1.1552)">l</i>
<i class="v" style="left:780.54px;top:347.85px;transform:scaleX(1.1907)">i</i>
<i class="v" style="left:785.62px;top:347.85px;transform:scaleX(1.0059)">s</i>
<i class="v" style="left:795.27px;top:347.85px;transform:scaleX(1.3129)">t</i>
<i class="v" style="left:802.28px;top:347.85px;transform:scaleX(0.8972)">F</i>
<i class="v" style="left:812.80px;top:347.85px;transform:scaleX(1.1907)">i</i>
<i class="v" style="left:817.88px;top:347.85px;transform:scaleX(1.1552)">l</i>
<i class="v" style="left:822.81px;top:347.85px;transform:scaleX(1.0228)">e</i>
<i class="b" style="left:43.76px;top:370.05px;transform:scaleX(1.0957)">d</i>
<i class="b" style="left:56.74px;top:370.05px;transform:scaleX(1.0516)">o</i>
<i class="b" style="left:75.51px;top:370.05px;transform:scaleX(1.0007)">s</i>
<i class="b" style="left:86.31px;top:370.05px;transform:scaleX(1.0898)">h</i>
<i class="b" style="left:99.22px;top:370.05px;transform:scaleX(1.1403)">e</i>
<i class="b" style="left:111.49px;top:370.05px;transform:scaleX(1.1536)">l</i>
<i class="b" style="left:117.70px;top:370.05px;transform:scaleX(1.1536)">l</i>
<i class="b" style="left:130.25px;top:370.05px;transform:scaleX(1.0007)">s</i>
<i class="b" style="left:141.05px;top:370.05px;transform:scaleX(0.9966)">c</i>
<i class="b" style="left:151.79px;top:370.05px;transform:scaleX(1.1849)">r</i>
<i class="b" style="left:160.72px;top:370.05px;transform:scaleX(1.1536)">i</i>
<i class="b" style="left:166.97px;top:370.05px;transform:scaleX(1.0957)">p</i>
<i class="b" style="left:179.93px;top:370.05px;transform:scaleX(1.3422)">t</i>
<i class="t q" style="left:195.63px;top:370.05px;transform:scaleX(1.0000) scaleY(1.2)">&quot;</i>
<i class="t" style="left:203.28px;top:370.05px;transform:scaleX(1.1100)">p</i>
<i class="t" style="left:215.13px;top:370.05px;transform:scaleX(1.1552)">l</i>
<i class="t" style="left:220.06px;top:370.05px;transform:scaleX(1.1580)">u</i>
<i class="t" style="left:232.42px;top:370.05px;transform:scaleX(1.3129)">t</i>
<i class="t" style="left:239.42px;top:370.05px;transform:scaleX(1.1907)">i</i>
<i class="t" style="left:244.50px;top:370.05px;transform:scaleX(1.1552)">l</i>
<i class="t" style="left:256.59px;top:370.05px;transform:scaleX(1.0000)">-</i>
<i class="t" style="left:263.89px;top:370.05px;transform:scaleX(1.1884)">r</i>
<i class="t" style="left:271.49px;top:370.05px;transform:scaleX(1.0228)">e</i>
<i class="t" style="left:282.41px;top:370.05px;transform:scaleX(1.1100)">p</i>
<i class="t" style="left:294.27px;top:370.05px;transform:scaleX(1.1552)">l</i>
<i class="t" style="left:299.19px;top:370.05px;transform:scaleX(1.0038)">a</i>
<i class="t" style="left:309.91px;top:370.05px;transform:scaleX(0.9871)">c</i>
<i class="t" style="left:319.39px;top:370.05px;transform:scaleX(1.0228)">e</i>
<i class="t" style="left:336.55px;top:370.05px;transform:scaleX(1.0506)">L</i>
<i class="t" style="left:347.77px;top:370.05px;transform:scaleX(1.0251)">S</i>
<i class="t" style="left:360.90px;top:370.05px;transform:scaleX(1.0010)">U</i>
<i class="t" style="left:374.78px;top:370.05px;transform:scaleX(1.2511)">I</i>
<i class="t" style="left:381.45px;top:370.05px;transform:scaleX(0.8674)">E</i>
<i class="t" style="left:392.56px;top:370.05px;transform:scaleX(1.1552)">l</i>
<i class="t" style="left:397.49px;top:370.05px;transform:scaleX(1.0228)">e</i>
<i class="t" style="left:408.41px;top:370.05px;transform:scaleX(1.0645)">m</i>
<i class="t" style="left:425.43px;top:370.05px;transform:scaleX(1.0228)">e</i>
<i class="t" style="left:436.35px;top:370.05px;transform:scaleX(1.0521)">n</i>
<i class="t" style="left:447.59px;top:370.05px;transform:scaleX(1.3129)">t</i>
<i class="t" style="left:461.74px;top:370.05px;transform:scaleX(1.0000)">-</i>
<i class="t" style="left:469.05px;top:370.05px;transform:scaleX(1.1089)">b</i>
<i class="t" style="left:480.89px;top:370.05px;transform:scaleX(1.0627)">o</i>
<i class="t" style="left:492.24px;top:370.05px;transform:scaleX(1.0627)">o</i>
<i class="t" style="left:503.59px;top:370.05px;transform:scaleX(1.1552)">l</i>
<i class="t" style="left:514.76px;top:370.05px;transform:scaleX(0.8562)">Y</i>
<i class="t" style="left:525.72px;top:370.05px;transform:scaleX(0.8674)">E</i>
<i class="t" style="left:536.83px;top:370.05px;transform:scaleX(1.0251)">S</i>
<i class="t q" style="left:557.03px;top:370.05px;transform:scaleX(1.0000) scaleY(1.2)">&quot;</i>
<i class="t" style="left:570.92px;top:370.05px;transform:scaleX(1.0462)">&amp;</i>
<i class="v" style="left:590.56px;top:370.05px;transform:scaleX(1.1100)">p</i>
<i class="v" style="left:602.42px;top:370.05px;transform:scaleX(1.1552)">l</i>
<i class="v" style="left:607.34px;top:370.05px;transform:scaleX(1.1907)">i</i>
<i class="v" style="left:612.42px;top:370.05px;transform:scaleX(1.0059)">s</i>
<i class="v" style="left:622.08px;top:370.05px;transform:scaleX(1.3129)">t</i>
<i class="v" style="left:629.08px;top:370.05px;transform:scaleX(0.8972)">F</i>
<i class="v" style="left:639.61px;top:370.05px;transform:scaleX(1.1907)">i</i>
<i class="v" style="left:644.68px;top:370.05px;transform:scaleX(1.1552)">l</i>
<i class="v" style="left:649.61px;top:370.05px;transform:scaleX(1.0228)">e</i>
<i class="b" style="left:43.76px;top:392.25px;transform:scaleX(1.0957)">d</i>
<i class="b" style="left:56.74px;top:392.25px;transform:scaleX(1.0516)">o</i>
<i class="b" style="left:75.51px;top:392.25px;transform:scaleX(1.0007)">s</i>
<i class="b" style="left:86.31px;top:392.25px;transform:scaleX(1.0898)">h</i>
<i class="b" style="left:99.22px;top:392.25px;transform:scaleX(1.1403)">e</i>
<i class="b" style="left:111.49px;top:392.25px;transform:scaleX(1.1536)">l</i>
<i class="b" style="left:117.70px;top:392.25px;transform:scaleX(1.1536)">l</i>
<i class="b" style="left:130.25px;top:392.25px;transform:scaleX(1.0007)">s</i>
<i class="b" style="left:141.05px;top:392.25px;transform:scaleX(0.9966)">c</i>
<i class="b" style="left:151.79px;top:392.25px;transform:scaleX(1.1849)">r</i>
<i class="b" style="left:160.72px;top:392.25px;transform:scaleX(1.1536)">i</i>
<i class="b" style="left:166.97px;top:392.25px;transform:scaleX(1.0957)">p</i>
<i class="b" style="left:179.93px;top:392.25px;transform:scaleX(1.3422)">t</i>
<i class="t q" style="left:195.63px;top:392.25px;transform:scaleX(1.0000) scaleY(1.2)">&quot;</i>
<i class="t" style="left:203.28px;top:392.25px;transform:scaleX(1.1100)">p</i>
<i class="t" style="left:215.13px;top:392.25px;transform:scaleX(1.1552)">l</i>
<i class="t" style="left:220.06px;top:392.25px;transform:scaleX(1.1580)">u</i>
<i class="t" style="left:232.42px;top:392.25px;transform:scaleX(1.3129)">t</i>
<i class="t" style="left:239.42px;top:392.25px;transform:scaleX(1.1907)">i</i>
<i class="t" style="left:244.50px;top:392.25px;transform:scaleX(1.1552)">l</i>
<i class="t" style="left:256.59px;top:392.25px;transform:scaleX(1.0000)">-</i>
<i class="t" style="left:263.89px;top:392.25px;transform:scaleX(1.1884)">r</i>
<i class="t" style="left:271.49px;top:392.25px;transform:scaleX(1.0228)">e</i>
<i class="t" style="left:282.41px;top:392.25px;transform:scaleX(1.1100)">p</i>
<i class="t" style="left:294.27px;top:392.25px;transform:scaleX(1.1552)">l</i>
<i class="t" style="left:299.19px;top:392.25px;transform:scaleX(1.0038)">a</i>
<i class="t" style="left:309.91px;top:392.25px;transform:scaleX(0.9871)">c</i>
<i class="t" style="left:319.39px;top:392.25px;transform:scaleX(1.0228)">e</i>
<i class="t" style="left:336.55px;top:392.25px;transform:scaleX(0.8984)">C</i>
<i class="t" style="left:349.01px;top:392.25px;transform:scaleX(0.8972)">F</i>
<i class="t" style="left:359.53px;top:392.25px;transform:scaleX(1.0342)">B</i>
<i class="t" style="left:372.77px;top:392.25px;transform:scaleX(1.1580)">u</i>
<i class="t" style="left:385.14px;top:392.25px;transform:scaleX(1.0521)">n</i>
<i class="t" style="left:396.37px;top:392.25px;transform:scaleX(1.0871)">d</i>
<i class="t" style="left:407.98px;top:392.25px;transform:scaleX(1.1552)">l</i>
<i class="t" style="left:412.91px;top:392.25px;transform:scaleX(1.0228)">e</i>
<i class="t" style="left:423.83px;top:392.25px;transform:scaleX(0.8674)">E</i>
<i class="t" style="left:434.94px;top:392.25px;transform:scaleX(1.1949)">x</i>
<i class="t" style="left:446.41px;top:392.25px;transform:scaleX(1.0228)">e</i>
<i class="t" style="left:457.33px;top:392.25px;transform:scaleX(0.9871)">c</i>
<i class="t" style="left:466.81px;top:392.25px;transform:scaleX(1.1580)">u</i>
<i class="t" style="left:479.17px;top:392.25px;transform:scaleX(1.3129)">t</i>
<i class="t" style="left:486.18px;top:392.25px;transform:scaleX(1.0038)">a</i>
<i class="t" style="left:496.89px;top:392.25px;transform:scaleX(1.1089)">b</i>
<i class="t" style="left:508.74px;top:392.25px;transform:scaleX(1.1552)">l</i>
<i class="t" style="left:513.66px;top:392.25px;transform:scaleX(1.0228)">e</i>
<i class="t" style="left:531.74px;top:392.25px;transform:scaleX(1.0000)">-</i>
<i class="t" style="left:539.05px;top:392.25px;transform:scaleX(1.0059)">s</i>
<i class="t" style="left:548.70px;top:392.25px;transform:scaleX(1.3129)">t</i>
<i class="t" style="left:555.71px;top:392.25px;transform:scaleX(1.1884)">r</i>
<i class="t" style="left:563.31px;top:392.25px;transform:scaleX(1.1907)">i</i>
<i class="t" style="left:568.38px;top:392.25px;transform:scaleX(1.0521)">n</i>
<i class="t" style="left:579.62px;top:392.25px;transform:scaleX(1.0929)">g</i>
<i class="t q" style="left:597.99px;top:392.25px;transform:scaleX(1.0000) scaleY(1.2)">&#x27;</i>
<i class="t" style="left:602.11px;top:392.25px;transform:scaleX(0.9600)">R</i>
<i class="t" style="left:615.43px;top:392.25px;transform:scaleX(1.0228)">e</i>
<i class="t" style="left:626.35px;top:392.25px;transform:scaleX(1.0645)">m</i>
<i class="t" style="left:643.37px;top:392.25px;transform:scaleX(1.1907)">i</i>
<i class="t" style="left:648.45px;top:392.25px;transform:scaleX(1.0521)">n</i>
<i class="t" style="left:659.68px;top:392.25px;transform:scaleX(1.0871)">d</i>
<i class="t" style="left:671.29px;top:392.25px;transform:scaleX(1.0228)">e</i>
<i class="t" style="left:682.21px;top:392.25px;transform:scaleX(1.1884)">r</i>
<i class="t" style="left:689.81px;top:392.25px;transform:scaleX(1.0059)">s</i>
<i class="t q" style="left:699.93px;top:392.25px;transform:scaleX(1.0000) scaleY(1.2)">&#x27;</i>
<i class="t q" style="left:711.13px;top:392.25px;transform:scaleX(1.0000) scaleY(1.2)">&quot;</i>
<i class="t" style="left:725.02px;top:392.25px;transform:scaleX(1.0462)">&amp;</i>
<i class="v" style="left:744.66px;top:392.25px;transform:scaleX(1.1100)">p</i>
<i class="v" style="left:756.51px;top:392.25px;transform:scaleX(1.1552)">l</i>
<i class="v" style="left:761.44px;top:392.25px;transform:scaleX(1.1907)">i</i>
<i class="v" style="left:766.52px;top:392.25px;transform:scaleX(1.0059)">s</i>
<i class="v" style="left:776.17px;top:392.25px;transform:scaleX(1.3129)">t</i>
<i class="v" style="left:783.18px;top:392.25px;transform:scaleX(0.8972)">F</i>
<i class="v" style="left:793.70px;top:392.25px;transform:scaleX(1.1907)">i</i>
<i class="v" style="left:798.78px;top:392.25px;transform:scaleX(1.1552)">l</i>
<i class="v" style="left:803.71px;top:392.25px;transform:scaleX(1.0228)">e</i>
<i class="b" style="left:43.76px;top:414.45px;transform:scaleX(1.0957)">d</i>
<i class="b" style="left:56.74px;top:414.45px;transform:scaleX(1.0516)">o</i>
<i class="b" style="left:75.51px;top:414.45px;transform:scaleX(1.0007)">s</i>
<i class="b" style="left:86.31px;top:414.45px;transform:scaleX(1.0898)">h</i>
<i class="b" style="left:99.22px;top:414.45px;transform:scaleX(1.1403)">e</i>
<i class="b" style="left:111.49px;top:414.45px;transform:scaleX(1.1536)">l</i>
<i class="b" style="left:117.70px;top:414.45px;transform:scaleX(1.1536)">l</i>
<i class="b" style="left:130.25px;top:414.45px;transform:scaleX(1.0007)">s</i>
<i class="b" style="left:141.05px;top:414.45px;transform:scaleX(0.9966)">c</i>
<i class="b" style="left:151.79px;top:414.45px;transform:scaleX(1.1849)">r</i>
<i class="b" style="left:160.72px;top:414.45px;transform:scaleX(1.1536)">i</i>
<i class="b" style="left:166.97px;top:414.45px;transform:scaleX(1.0957)">p</i>
<i class="b" style="left:179.93px;top:414.45px;transform:scaleX(1.3422)">t</i>
<i class="t q" style="left:195.63px;top:414.45px;transform:scaleX(1.0000) scaleY(1.2)">&quot;</i>
<i class="t" style="left:203.28px;top:414.45px;transform:scaleX(0.9871)">c</i>
<i class="t" style="left:212.75px;top:414.45px;transform:scaleX(1.1100)">p</i>
<i class="t q" style="left:231.68px;top:414.45px;transform:scaleX(1.0000) scaleY(1.2)">&quot;</i>
<i class="t" style="left:245.57px;top:414.45px;transform:scaleX(1.0462)">&amp;</i>
<i class="v" style="left:265.21px;top:414.45px;transform:scaleX(1.0038)">a</i>
<i class="v" style="left:275.93px;top:414.45px;transform:scaleX(1.1100)">p</i>
<i class="v" style="left:287.78px;top:414.45px;transform:scaleX(1.1100)">p</i>
<i class="v" style="left:299.64px;top:414.45px;transform:scaleX(1.1552)">l</i>
<i class="v" style="left:304.56px;top:414.45px;transform:scaleX(1.0228)">e</i>
<i class="v" style="left:315.48px;top:414.45px;transform:scaleX(1.3129)">t</i>
<i class="v" style="left:322.49px;top:414.45px;transform:scaleX(0.8972)">F</i>
<i class="v" style="left:333.01px;top:414.45px;transform:scaleX(1.1907)">i</i>
<i class="v" style="left:338.09px;top:414.45px;transform:scaleX(1.1552)">l</i>
<i class="v" style="left:343.02px;top:414.45px;transform:scaleX(1.0228)">e</i>
<i class="t" style="left:360.18px;top:414.45px;transform:scaleX(1.0462)">&amp;</i>
<i class="t q" style="left:380.65px;top:414.45px;transform:scaleX(1.0000) scaleY(1.2)">&quot;</i>
<i class="t q" style="left:395.38px;top:414.45px;transform:scaleX(1.0000) scaleY(1.2)">&quot;</i>
<i class="t" style="left:409.27px;top:414.45px;transform:scaleX(1.0462)">&amp;</i>
<i class="v" style="left:428.91px;top:414.45px;transform:scaleX(1.0521)">n</i>
<i class="v" style="left:440.14px;top:414.45px;transform:scaleX(1.0228)">e</i>
<i class="v" style="left:451.06px;top:414.45px;transform:scaleX(1.0768)">w</i>
<i class="v" style="left:465.99px;top:414.45px;transform:scaleX(0.9926)">A</i>
<i class="v" style="left:478.70px;top:414.45px;transform:scaleX(1.1100)">p</i>
<i class="v" style="left:490.56px;top:414.45px;transform:scaleX(1.1100)">p</i>
<i class="v" style="left:502.41px;top:414.45px;transform:scaleX(1.1552)">l</i>
<i class="v" style="left:507.34px;top:414.45px;transform:scaleX(1.0228)">e</i>
<i class="v" style="left:518.26px;top:414.45px;transform:scaleX(1.3129)">t</i>
<i class="v" style="left:525.26px;top:414.45px;transform:scaleX(0.8972)">F</i>
<i class="v" style="left:535.78px;top:414.45px;transform:scaleX(1.1907)">i</i>
<i class="v" style="left:540.86px;top:414.45px;transform:scaleX(1.1552)">l</i>
<i class="v" style="left:545.79px;top:414.45px;transform:scaleX(1.0228)">e</i>
<i class="b" style="left:43.76px;top:436.65px;transform:scaleX(1.0957)">d</i>
<i class="b" style="left:56.74px;top:436.65px;transform:scaleX(1.0516)">o</i>
<i class="b" style="left:75.51px;top:436.65px;transform:scaleX(1.0007)">s</i>
<i class="b" style="left:86.31px;top:436.65px;transform:scaleX(1.0898)">h</i>
<i class="b" style="left:99.22px;top:436.65px;transform:scaleX(1.1403)">e</i>
<i class="b" style="left:111.49px;top:436.65px;transform:scaleX(1.1536)">l</i>
<i class="b" style="left:117.70px;top:436.65px;transform:scaleX(1.1536)">l</i>
<i class="b" style="left:130.25px;top:436.65px;transform:scaleX(1.0007)">s</i>
<i class="b" style="left:141.05px;top:436.65px;transform:scaleX(0.9966)">c</i>
<i class="b" style="left:151.79px;top:436.65px;transform:scaleX(1.1849)">r</i>
<i class="b" style="left:160.72px;top:436.65px;transform:scaleX(1.1536)">i</i>
<i class="b" style="left:166.97px;top:436.65px;transform:scaleX(1.0957)">p</i>
<i class="b" style="left:179.93px;top:436.65px;transform:scaleX(1.3422)">t</i>
<i class="t q" style="left:195.63px;top:436.65px;transform:scaleX(1.0000) scaleY(1.2)">&quot;</i>
<i class="t" style="left:203.28px;top:436.65px;transform:scaleX(0.9871)">c</i>
<i class="t" style="left:212.75px;top:436.65px;transform:scaleX(1.0627)">o</i>
<i class="t" style="left:224.10px;top:436.65px;transform:scaleX(1.0871)">d</i>
<i class="t" style="left:235.71px;top:436.65px;transform:scaleX(1.0228)">e</i>
<i class="t" style="left:246.63px;top:436.65px;transform:scaleX(1.0059)">s</i>
<i class="t" style="left:256.29px;top:436.65px;transform:scaleX(1.1907)">i</i>
<i class="t" style="left:261.36px;top:436.65px;transform:scaleX(1.0929)">g</i>
<i class="t" style="left:273.03px;top:436.65px;transform:scaleX(1.0521)">n</i>
<i class="t" style="left:291.42px;top:436.65px;transform:scaleX(1.0000)">-</i>
<i class="t" style="left:299.65px;top:436.65px;transform:scaleX(1.0000)">-</i>
<i class="t" style="left:306.95px;top:436.65px;transform:scaleX(1.2049)">f</i>
<i class="t" style="left:313.38px;top:436.65px;transform:scaleX(1.0627)">o</i>
<i class="t" style="left:324.73px;top:436.65px;transform:scaleX(1.1884)">r</i>
<i class="t" style="left:332.33px;top:436.65px;transform:scaleX(0.9871)">c</i>
<i class="t" style="left:341.80px;top:436.65px;transform:scaleX(1.0228)">e</i>
<i class="t" style="left:359.88px;top:436.65px;transform:scaleX(1.0000)">-</i>
<i class="t" style="left:368.10px;top:436.65px;transform:scaleX(1.0000)">-</i>
<i class="t" style="left:375.41px;top:436.65px;transform:scaleX(1.0871)">d</i>
<i class="t" style="left:387.02px;top:436.65px;transform:scaleX(1.0228)">e</i>
<i class="t" style="left:397.94px;top:436.65px;transform:scaleX(1.0228)">e</i>
<i class="t" style="left:408.86px;top:436.65px;transform:scaleX(1.1100)">p</i>
<i class="t" style="left:427.87px;top:436.65px;transform:scaleX(1.0000)">-</i>
<i class="t" style="left:435.17px;top:436.65px;transform:scaleX(1.0059)">s</i>
<i class="t" style="left:451.99px;top:436.65px;transform:scaleX(1.0000)">-</i>
<i class="t q" style="left:466.37px;top:436.65px;transform:scaleX(1.0000) scaleY(1.2)">&quot;</i>
<i class="t" style="left:480.26px;top:436.65px;transform:scaleX(1.0462)">&amp;</i>
<i class="t" style="left:500.69px;top:436.65px;transform:scaleX(1.0000)">(</i>
<i class="p" style="left:507.88px;top:436.65px;transform:scaleX(1.0506)">q</i>
<i class="p" style="left:519.09px;top:436.65px;transform:scaleX(1.1580)">u</i>
<i class="p" style="left:531.46px;top:436.65px;transform:scaleX(1.0627)">o</i>
<i class="p" style="left:542.81px;top:436.65px;transform:scaleX(1.3129)">t</i>
<i class="p" style="left:549.81px;top:436.65px;transform:scaleX(1.0228)">e</i>
<i class="p" style="left:560.73px;top:436.65px;transform:scaleX(1.0871)">d</i>
<i class="p" style="left:578.58px;top:436.65px;transform:scaleX(1.2049)">f</i>
<i class="p" style="left:585.01px;top:436.65px;transform:scaleX(1.0627)">o</i>
<i class="p" style="left:596.36px;top:436.65px;transform:scaleX(1.1884)">r</i>
<i class="p" style="left:603.95px;top:436.65px;transform:scaleX(1.0645)">m</i>
<i class="k" style="left:627.28px;top:436.65px;transform:scaleX(1.0516)">o</i>
<i class="k" style="left:639.72px;top:436.65px;transform:scaleX(1.2216)">f</i>
<i class="v" style="left:653.81px;top:436.65px;transform:scaleX(1.1100)">p</i>
<i class="v" style="left:665.66px;top:436.65px;transform:scaleX(1.0228)">e</i>
<i class="v" style="left:676.58px;top:436.65px;transform:scaleX(1.1884)">r</i>
<i class="v" style="left:684.18px;top:436.65px;transform:scaleX(1.0645)">m</i>
<i class="v" style="left:701.21px;top:436.65px;transform:scaleX(1.1907)">i</i>
<i class="v" style="left:706.28px;top:436.65px;transform:scaleX(1.0059)">s</i>
<i class="v" style="left:715.94px;top:436.65px;transform:scaleX(1.0059)">s</i>
<i class="v" style="left:725.60px;top:436.65px;transform:scaleX(1.1907)">i</i>
<i class="v" style="left:730.68px;top:436.65px;transform:scaleX(1.0627)">o</i>
<i class="v" style="left:742.03px;top:436.65px;transform:scaleX(1.0521)">n</i>
<i class="v" style="left:753.26px;top:436.65px;transform:scaleX(0.9926)">A</i>
<i class="v" style="left:765.97px;top:436.65px;transform:scaleX(1.1100)">p</i>
<i class="v" style="left:777.82px;top:436.65px;transform:scaleX(1.1100)">p</i>
<i class="t" style="left:790.64px;top:436.65px;transform:scaleX(1.0000)">)</i>
<i class="k" style="left:6.36px;top:458.85px;transform:scaleX(1.1403)">e</i>
<i class="k" style="left:18.66px;top:458.85px;transform:scaleX(1.0898)">n</i>
<i class="k" style="left:31.57px;top:458.85px;transform:scaleX(1.0957)">d</i>
<i class="v" style="left:50.73px;top:458.85px;transform:scaleX(0.9871)">c</i>
<i class="v" style="left:60.21px;top:458.85px;transform:scaleX(1.1884)">r</i>
<i class="v" style="left:67.80px;top:458.85px;transform:scaleX(1.0228)">e</i>
<i class="v" style="left:78.73px;top:458.85px;transform:scaleX(1.0038)">a</i>
<i class="v" style="left:89.44px;top:458.85px;transform:scaleX(1.3129)">t</i>
<i class="v" style="left:96.45px;top:458.85px;transform:scaleX(1.0228)">e</i>
<i class="v" style="left:107.37px;top:458.85px;transform:scaleX(0.8586)">P</i>
<i class="v" style="left:118.36px;top:458.85px;transform:scaleX(1.0228)">e</i>
<i class="v" style="left:129.29px;top:458.85px;transform:scaleX(1.1884)">r</i>
<i class="v" style="left:136.88px;top:458.85px;transform:scaleX(1.0645)">m</i>
<i class="v" style="left:153.91px;top:458.85px;transform:scaleX(1.1907)">i</i>
<i class="v" style="left:158.99px;top:458.85px;transform:scaleX(1.0059)">s</i>
<i class="v" style="left:168.64px;top:458.85px;transform:scaleX(1.0059)">s</i>
<i class="v" style="left:178.30px;top:458.85px;transform:scaleX(1.1907)">i</i>
<i class="v" style="left:183.38px;top:458.85px;transform:scaleX(1.0627)">o</i>
<i class="v" style="left:194.73px;top:458.85px;transform:scaleX(1.0521)">n</i>
<i class="v" style="left:205.96px;top:458.85px;transform:scaleX(0.9926)">A</i>
<i class="v" style="left:218.67px;top:458.85px;transform:scaleX(1.1100)">p</i>
<i class="v" style="left:230.53px;top:458.85px;transform:scaleX(1.1100)">p</i>
<svg class="s" width="975" height="485" stroke-width="1.5"><line x1="179.30" y1="73.95" x2="185.10" y2="90.35" stroke="#000"/><line x1="405.34" y1="90.35" x2="411.14" y2="73.95" stroke="#000"/><line x1="450.07" y1="90.35" x2="455.87" y2="73.95" stroke="#000"/><line x1="476.61" y1="73.95" x2="482.41" y2="90.35" stroke="#000"/><line x1="510.95" y1="179.15" x2="516.75" y2="162.75" stroke="#000"/><line x1="600.66" y1="179.15" x2="606.46" y2="162.75" stroke="#000"/><line x1="509.57" y1="201.35" x2="515.37" y2="184.95" stroke="#000"/><line x1="599.28" y1="201.35" x2="605.08" y2="184.95" stroke="#000"/><line x1="703.39" y1="201.35" x2="709.19" y2="184.95" stroke="#000"/><line x1="529.71" y1="223.55" x2="535.51" y2="207.15" stroke="#000"/><line x1="619.42" y1="223.55" x2="625.22" y2="207.15" stroke="#000"/><line x1="691.37" y1="223.55" x2="697.17" y2="207.15" stroke="#000"/><line x1="568.78" y1="245.75" x2="574.58" y2="229.35" stroke="#000"/><line x1="658.50" y1="245.75" x2="664.30" y2="229.35" stroke="#000"/><line x1="730.44" y1="245.75" x2="736.24" y2="229.35" stroke="#000"/><line x1="572.30" y1="312.35" x2="578.10" y2="295.95" stroke="#000"/><line x1="581.15" y1="312.35" x2="586.95" y2="295.95" stroke="#000"/><line x1="715.17" y1="312.35" x2="720.97" y2="295.95" stroke="#000"/></svg>
</div></body></html>
